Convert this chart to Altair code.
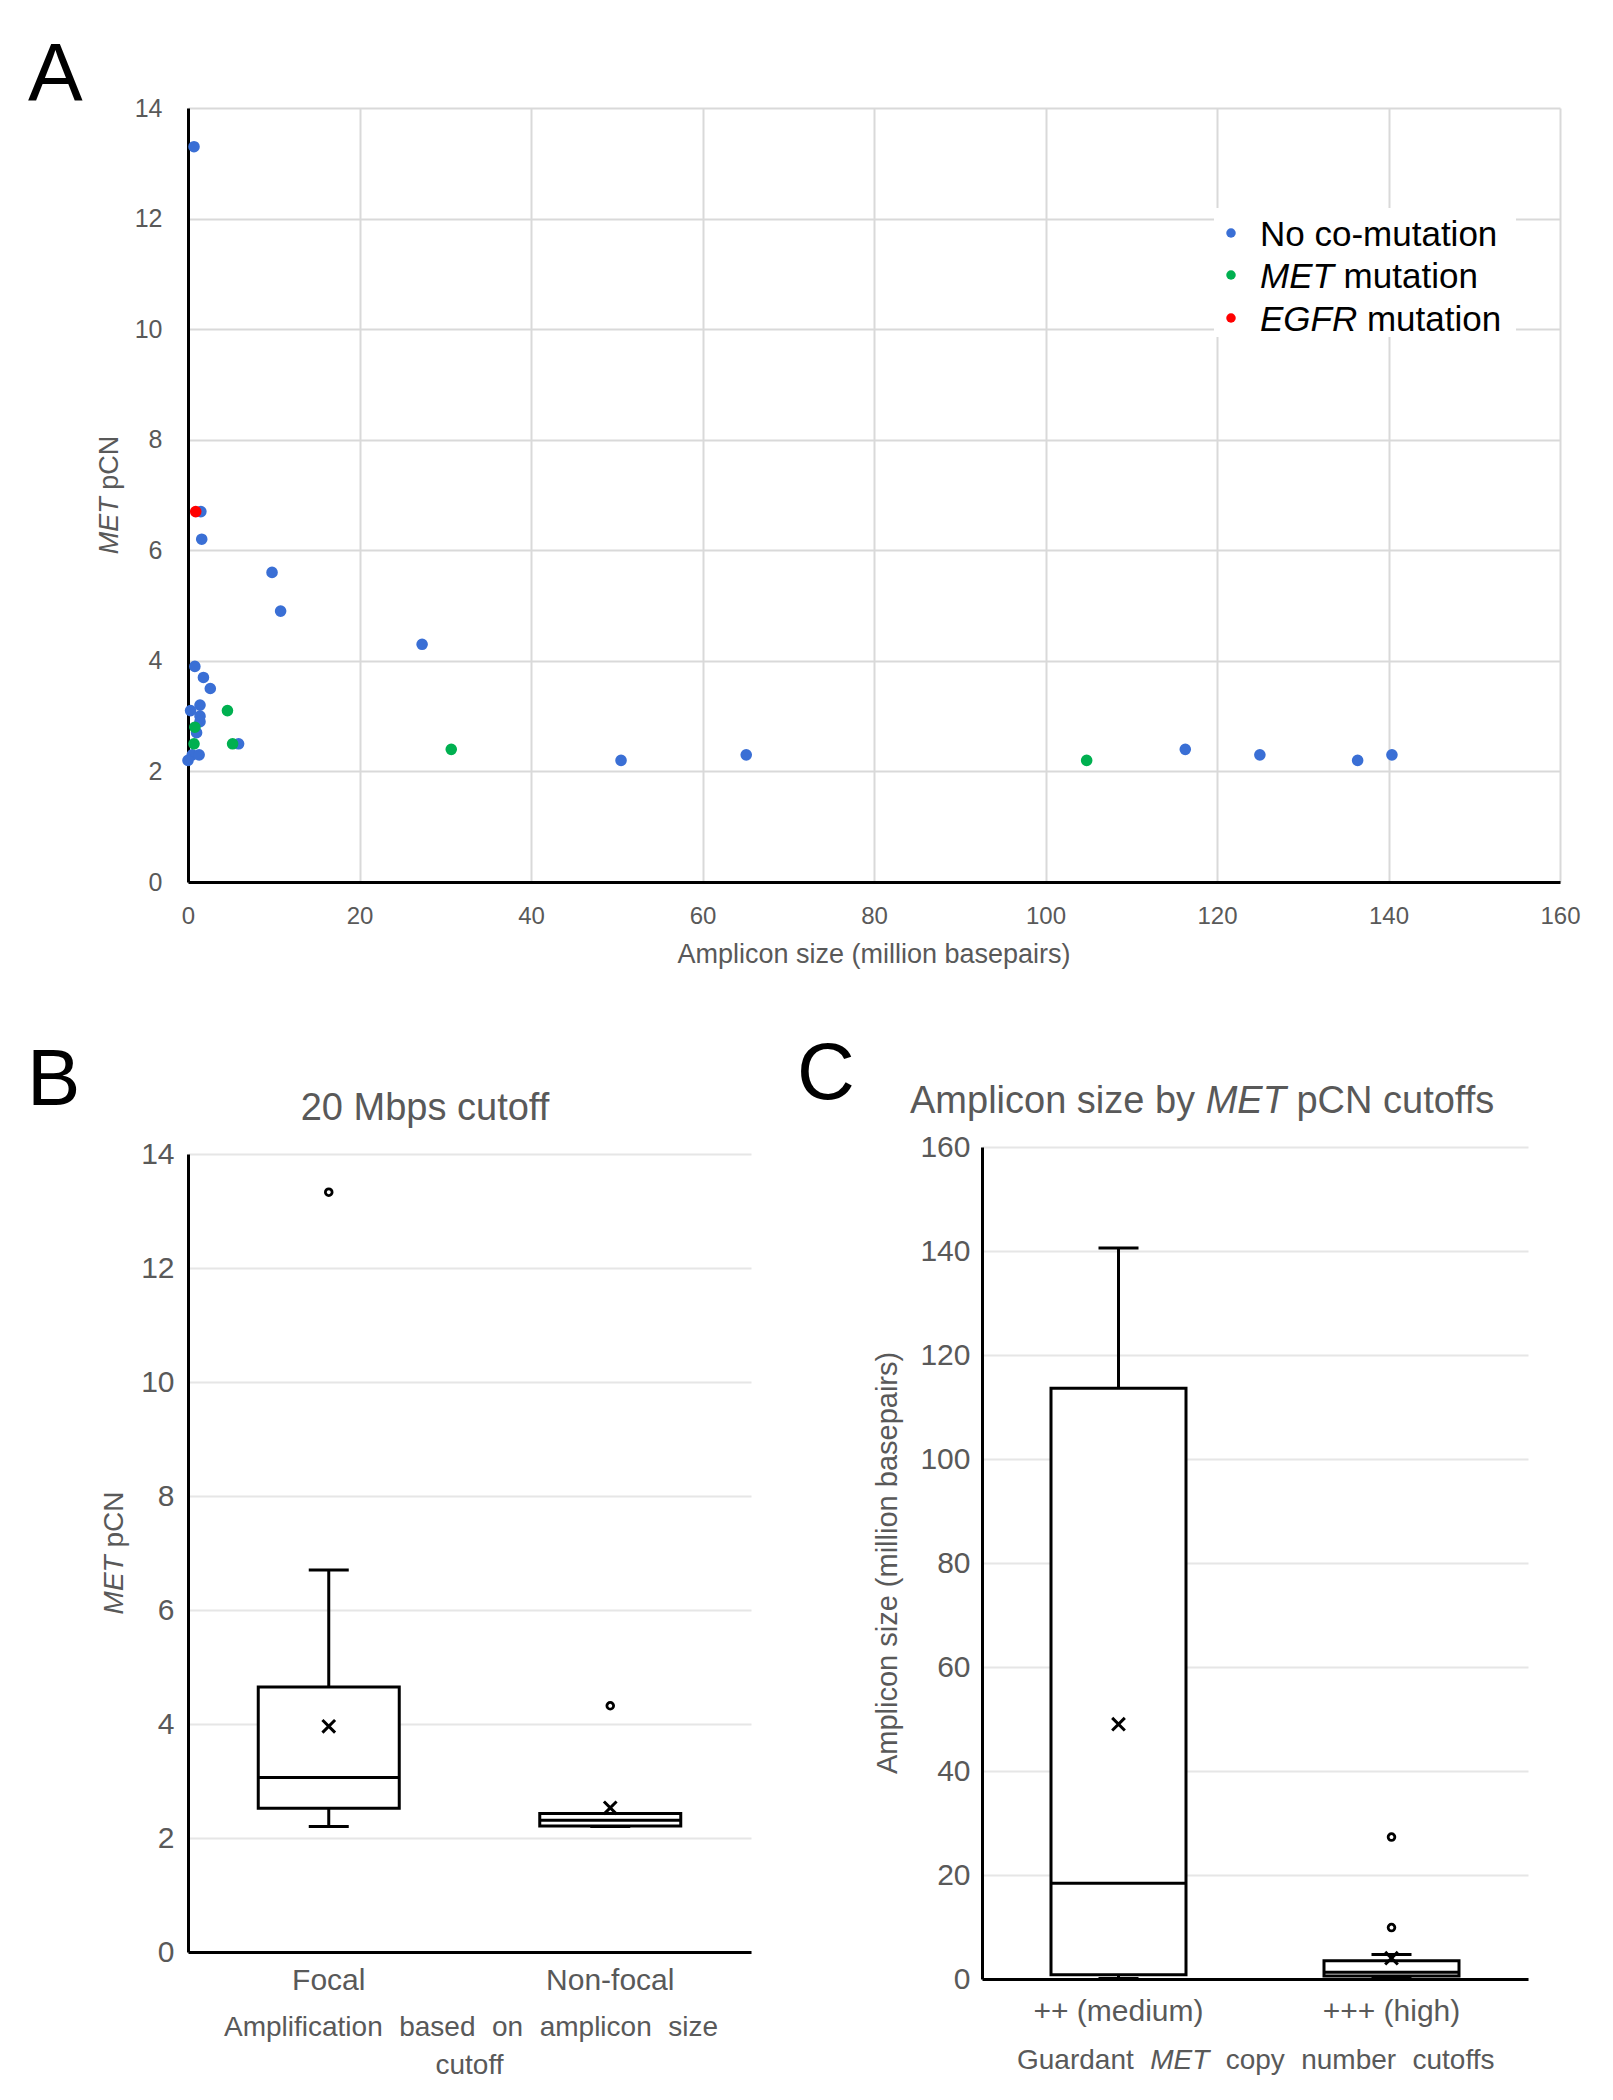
import altair as alt
import pandas as pd

FONT = "Liberation Sans"
GRAY = "#595959"
BLACK = "#000000"

# ---------------- Panel A data (amplicon size in Mbp, MET pCN) ----------------
groups = ["No co-mutation", "MET mutation", "EGFR mutation"]
group_colors = ["#3A6FD5", "#00B050", "#FF0000"]

nomut_size = [0.7, 1.5, 1.6, 9.8, 10.8, 27.3, 0.8, 1.8, 2.6, 1.4, 0.3, 1.4, 1.4, 1.0,
              5.9, 0.5, 1.3, 0.0, 50.5, 65.1, 116.3, 125.0, 136.4, 140.4]
nomut_pcn = [13.3, 6.7, 6.2, 5.6, 4.9, 4.3, 3.9, 3.7, 3.5, 3.2, 3.1, 3.0, 2.9, 2.7,
             2.5, 2.3, 2.3, 2.2, 2.2, 2.3, 2.4, 2.3, 2.2, 2.3]
met_size = [4.6, 0.8, 0.7, 5.2, 30.7, 104.8]
met_pcn = [3.1, 2.8, 2.5, 2.5, 2.4, 2.2]
egfr_size = [0.9]
egfr_pcn = [6.7]

a_x_ticks = [0, 20, 40, 60, 80, 100, 120, 140, 160]
a_y_ticks = [0, 2, 4, 6, 8, 10, 12, 14]

# ---------------- Panel B data (box summary, MET pCN) ----------------
b_categories = ["Focal", "Non-focal"]
b_lower = [2.2, 2.2]
b_q1 = [2.52, 2.21]
b_median = [3.06, 2.31]
b_q3 = [4.65, 2.43]
b_upper = [6.7, 2.43]
b_mean = [3.96, 2.53]
b_outlier_cat = ["Focal", "Non-focal"]
b_outlier_val = [13.33, 4.32]
b_y_ticks = [0, 2, 4, 6, 8, 10, 12, 14]

# ---------------- Panel C data (box summary, amplicon size) ----------------
c_categories = ["++ (medium)", "+++ (high)"]
c_lower = [0.1, 0.1]
c_q1 = [0.8, 0.6]
c_median = [18.4, 1.3]
c_q3 = [113.6, 3.5]
c_upper = [140.6, 4.7]
c_mean = [49.0, 4.0]
c_outlier_cat = ["+++ (high)", "+++ (high)"]
c_outlier_val = [9.9, 27.3]
c_y_ticks = [0, 20, 40, 60, 80, 100, 120, 140, 160]

# ---------------- text helpers (Arial / Liberation Sans advance widths) ----------------
W_ARIAL = {
    " ": 278, "(": 333, ")": 333, "+": 584, "-": 333,
    "0": 556, "1": 556, "2": 556, "3": 556, "4": 556, "5": 556, "6": 556, "7": 556, "8": 556, "9": 556,
    "A": 667, "B": 667, "C": 722, "E": 667, "F": 611, "G": 778, "M": 833, "N": 722, "R": 722, "T": 611,
    "a": 556, "b": 556, "c": 500, "d": 556, "e": 556, "f": 278, "g": 556, "h": 556, "i": 222,
    "l": 222, "m": 833, "n": 556, "o": 556, "p": 556, "r": 333, "s": 500, "t": 278, "u": 556,
    "y": 500, "z": 500,
}
ONE = pd.DataFrame({"k": [0]})


def tw(s, size):
    return sum(W_ARIAL.get(ch, 556) for ch in s) * size / 1000.0


def txt(s, x, y, size, color=GRAY, italic=False, align="left", baseline="alphabetic", angle=0):
    kw = dict(text=s, align=align, baseline=baseline, font=FONT, fontSize=size,
              color=color, fontStyle="italic" if italic else "normal")
    if angle:
        kw["angle"] = angle
    return alt.Chart(ONE).mark_text(**kw).encode(x=alt.value(x), y=alt.value(y))


def run(segments, x, y, size, gap=None, **kw):
    sp = tw(" ", size) if gap is None else gap
    out = []
    for s, it in segments:
        out.append(txt(s, x, y, size, italic=it, **kw))
        x += tw(s, size) + sp
    return out


def justify(segments, x0, x1, y, size, **kw):
    total = sum(tw(s, size) for s, _ in segments)
    gap = (x1 - x0 - total) / (len(segments) - 1)
    return run(segments, x0, y, size, gap=gap, **kw)


def vrun(segments, x, y_center, size, **kw):
    sp = tw(" ", size)
    total = sum(tw(s, size) for s, _ in segments) + sp * (len(segments) - 1)
    y = y_center + total / 2
    out = []
    for s, it in segments:
        out.append(txt(s, x, y, size, italic=it, angle=270, baseline="middle", **kw))
        y -= tw(s, size) + sp
    return out


# ---------------- Panel A ----------------
A_W, A_H = 1372, 774
scatter_df = pd.DataFrame({
    "size": nomut_size + met_size + egfr_size,
    "pcn": nomut_pcn + met_pcn + egfr_pcn,
    "group": [groups[0]] * len(nomut_size) + [groups[1]] * len(met_size) + [groups[2]] * len(egfr_size),
    "ord": [0] * len(nomut_size) + [1] * len(met_size) + [2] * len(egfr_size),
})

a_xaxis = alt.Axis(values=a_x_ticks, title=None, grid=True, gridColor="#D9D9D9", gridWidth=2,
                   domainColor=BLACK, domainWidth=3, ticks=False, tickSize=0, labelFlush=False,
                   labelFont=FONT, labelFontSize=24, labelColor=GRAY, labelPadding=22)
a_yaxis = alt.Axis(values=a_y_ticks, title=None, grid=True, gridColor="#D9D9D9", gridWidth=2,
                   domainColor=BLACK, domainWidth=3, ticks=False, tickSize=0, labelFlush=False,
                   labelFont=FONT, labelFontSize=25, labelColor=GRAY, labelPadding=26)

points = alt.Chart(scatter_df).mark_circle(size=135, opacity=1).encode(
    x=alt.X("size:Q", scale=alt.Scale(domain=[0, 160], nice=False), axis=a_xaxis),
    y=alt.Y("pcn:Q", scale=alt.Scale(domain=[0, 14], nice=False), axis=a_yaxis),
    color=alt.Color("group:N", scale=alt.Scale(domain=groups, range=group_colors), legend=None),
    order=alt.Order("ord:Q"),
)

legend_bg = alt.Chart(ONE).mark_rect(color="white").encode(
    x=alt.value(1026), x2=alt.value(1328), y=alt.value(100), y2=alt.value(229))

leg_rows_y = [125, 167, 210]
leg_layers = [legend_bg]
leg_texts = [[("No co-mutation", False)], [("MET", True), ("mutation", False)],
             [("EGFR", True), ("mutation", False)]]
for i, (yy, col) in enumerate(zip(leg_rows_y, group_colors)):
    leg_layers.append(alt.Chart(ONE).mark_circle(size=90, opacity=1, color=col).encode(
        x=alt.value(1043), y=alt.value(yy)))
    leg_layers += run(leg_texts[i], 1072, yy + 2, 35, color=BLACK, baseline="middle")

a_annot = [txt("A", -160, -8, 82, color=BLACK)]
a_annot += vrun([("MET", True), ("pCN", False)], -78, A_H / 2, 27)
a_annot.append(txt("Amplicon size (million basepairs)", A_W / 2, 855, 27, align="center"))

panel_a = alt.layer(points, *leg_layers, *a_annot).properties(width=A_W, height=A_H)


# ---------------- box panels ----------------
LW = 3


def box_panel(cats, lower, q1, med, q3, upper, mean, out_cat, out_val, yticks, ydom,
              W, H, top_off, box_w, ylab_pad, xlab_pad):
    df = pd.DataFrame({"cat": cats, "lower": lower, "q1": q1, "median": med,
                       "q3": q3, "upper": upper, "mean": mean})
    odf = pd.DataFrame({"cat": out_cat, "value": out_val})
    xsc = alt.Scale(domain=cats, paddingInner=0, paddingOuter=0)
    xax = alt.Axis(title=None, labelAngle=0, labelFont=FONT, labelFontSize=30, labelColor=GRAY,
                   labelPadding=xlab_pad, ticks=False, tickSize=0, domainColor=BLACK,
                   domainWidth=3, grid=False)
    ysc = alt.Scale(domain=ydom, range=[H, top_off], nice=False)
    yax = alt.Axis(title=None, values=yticks, labelFont=FONT, labelFontSize=30, labelColor=GRAY,
                   labelPadding=ylab_pad, grid=True, gridColor="#E6E6E6", gridWidth=2,
                   labelFlush=False, domainColor=BLACK, domainWidth=3, ticks=False, tickSize=0)
    X = alt.X("cat:N", scale=xsc, axis=xax)

    def Y(f):
        return alt.Y(f"{f}:Q", scale=ysc, axis=yax)

    base = alt.Chart(df)
    w_up = base.mark_rule(color=BLACK, strokeWidth=LW).encode(x=X, y=Y("q3"), y2="upper:Q")
    w_lo = base.mark_rule(color=BLACK, strokeWidth=LW).encode(x=X, y=Y("lower"), y2="q1:Q")
    cap_up = base.mark_tick(color=BLACK, size=40, thickness=LW, opacity=1).encode(x=X, y=Y("upper"))
    cap_lo = base.mark_tick(color=BLACK, size=40, thickness=LW, opacity=1).encode(x=X, y=Y("lower"))
    box = base.mark_bar(width=box_w, fill="white", stroke=BLACK, strokeWidth=LW).encode(
        x=X, y=Y("q1"), y2="q3:Q")
    mline = base.mark_tick(color=BLACK, size=box_w, thickness=LW, opacity=1).encode(x=X, y=Y("median"))
    mean_mk = base.mark_point(shape="M-1,-1L1,1M-1,1L1,-1", size=160, filled=False,
                              strokeWidth=3, color=BLACK, opacity=1).encode(x=X, y=Y("mean"))
    outl = alt.Chart(odf).mark_point(shape="circle", size=45, filled=False, strokeWidth=2.8,
                                     color=BLACK, opacity=1).encode(x=X, y=Y("value"))
    return [w_up, w_lo, cap_up, cap_lo, box, mline, mean_mk, outl]


B_W, B_H = 563, 805
b_layers = box_panel(b_categories, b_lower, b_q1, b_median, b_q3, b_upper, b_mean,
                     b_outlier_cat, b_outlier_val, b_y_ticks, [0, 14], B_W, B_H, 7, 141, 14, 13)
b_annot = [txt("B", -161, -42, 80, color=BLACK),
           txt("20 Mbps cutoff", 237, -27, 38, align="center")]
b_annot += vrun([("MET", True), ("pCN", False)], -73, 406, 28)
b_annot += justify([("Amplification", False), ("based", False), ("on", False),
                    ("amplicon", False), ("size", False)], 36, 530, 889, 28)
b_annot.append(txt("cutoff", B_W / 2, 927, 28, align="center"))
panel_b = alt.layer(*b_layers, *b_annot).properties(width=B_W, height=B_H)

C_W, C_H = 546, 832
c_layers = box_panel(c_categories, c_lower, c_q1, c_median, c_q3, c_upper, c_mean,
                     c_outlier_cat, c_outlier_val, c_y_ticks, [0, 160], C_W, C_H, 0, 135, 12, 17)
c_annot = [txt("C", -185, -48, 80, color=BLACK)]
c_annot += run([("Amplicon size by", False), ("MET", True), ("pCN cutoffs", False)], -72, -34, 38)
c_annot += vrun([("Amplicon size (million basepairs)", False)], -94, C_H / 2, 29)
c_annot += justify([("Guardant", False), ("MET", True), ("copy", False), ("number", False),
                    ("cutoffs", False)], 35, 513, 922, 28)
panel_c = alt.layer(*c_layers, *c_annot).properties(width=C_W, height=C_H)

row2 = alt.hconcat(panel_b, panel_c, spacing=231, bounds="flush")

chart = alt.vconcat(panel_a, row2, spacing=265, bounds="flush").properties(
    padding={"left": 19, "top": 26, "right": 5, "bottom": 5}
).configure(font=FONT).configure_view(stroke="transparent", strokeWidth=0)

chart.save("out.html", embed_options={"renderer": "svg", "actions": False})
